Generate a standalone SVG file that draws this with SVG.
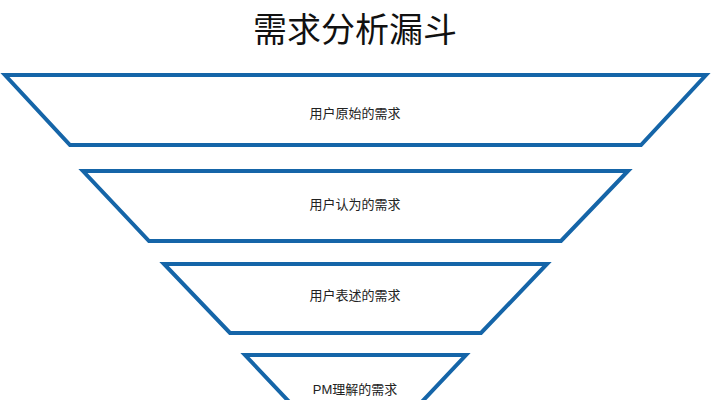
<svg xmlns="http://www.w3.org/2000/svg" width="711" height="400" viewBox="0 0 711 400">
<style>
.t{fill:#fff;stroke:#1565a8;stroke-width:4;stroke-linejoin:miter}
.l{font-family:"Liberation Sans","Noto Sans CJK SC",sans-serif;font-size:13px;fill:#222;text-anchor:middle}
.h{font-family:"Liberation Sans","Noto Sans CJK SC",sans-serif;font-size:34px;fill:#111;text-anchor:middle}
</style>
<rect width="711" height="400" fill="#fff"/>
<text class="h" x="355" y="42">需求分析漏斗</text>
<g id="n1"><polygon class="t" points="5,75 706,75 641,145 70,145"/><text class="l" x="355" y="118">用户原始的需求</text></g>
<g id="n2"><polygon class="t" points="83,171 628,171 561,241 149,241"/><text class="l" x="355" y="209">用户认为的需求</text></g>
<g id="n3"><polygon class="t" points="164,264 547,264 481,333 230,333"/><text class="l" x="355" y="300">用户表述的需求</text></g>
<g id="n4"><polygon class="t" points="245,355 466,355 400,425 311,425"/><text class="l" x="355" y="394">PM理解的需求</text></g>
<g id="connectors"/>
</svg>
